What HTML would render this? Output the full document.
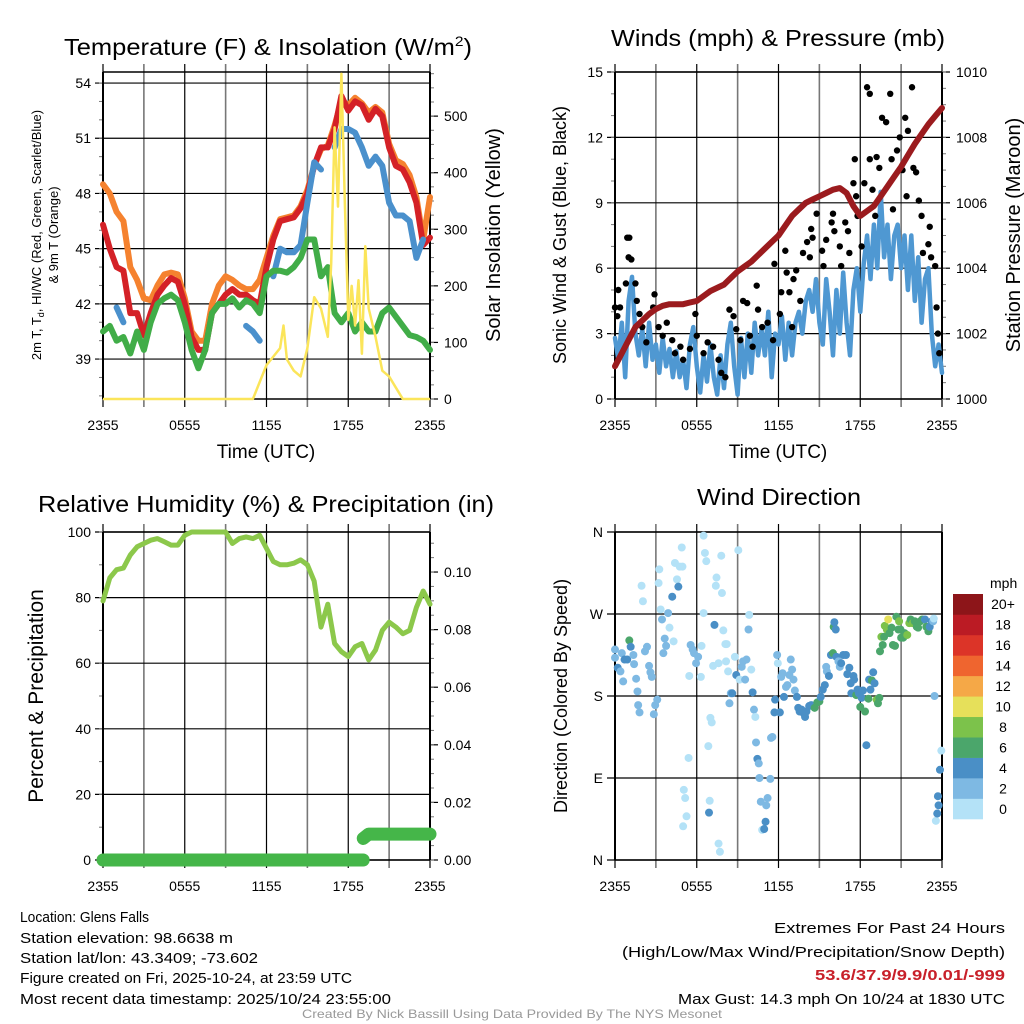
<!DOCTYPE html>
<html><head><meta charset="utf-8"><style>
html,body{margin:0;padding:0;background:#fff;width:1024px;height:1024px;overflow:hidden}
svg{display:block;font-family:"Liberation Sans",Arial,sans-serif}
</style></head><body>
<svg id="fig" width="1024" height="1024" viewBox="0 0 1024 1024" xmlns="http://www.w3.org/2000/svg">
<g id="static" fill="#000">
<text x="64" y="55" font-size="23" textLength="408" lengthAdjust="spacingAndGlyphs">Temperature (F) &amp; Insolation (W/m<tspan font-size="14" dy="-9">2</tspan><tspan dy="9">)</tspan></text>
<text x="611" y="46" font-size="23" textLength="334" lengthAdjust="spacingAndGlyphs">Winds (mph) &amp; Pressure (mb)</text>
<text x="38" y="512" font-size="23" textLength="456" lengthAdjust="spacingAndGlyphs">Relative Humidity (%) &amp; Precipitation (in)</text>
<text x="697" y="505" font-size="23" textLength="164" lengthAdjust="spacingAndGlyphs">Wind Direction</text>
<text x="266" y="458" font-size="19" text-anchor="middle">Time (UTC)</text>
<text x="778" y="458" font-size="19" text-anchor="middle">Time (UTC)</text>
<text transform="translate(41,235) rotate(-90)" font-size="13" text-anchor="middle">2m T, T<tspan font-size="9" dy="3">d</tspan><tspan dy="-3">, HI/WC (Red, Green, Scarlet/Blue)</tspan></text>
<text transform="translate(58,235) rotate(-90)" font-size="13" text-anchor="middle">&amp; 9m T (Orange)</text>
<text transform="translate(500,235) rotate(-90)" font-size="20" text-anchor="middle">Solar Insolation (Yellow)</text>
<text transform="translate(566,235) rotate(-90)" font-size="18" text-anchor="middle">Sonic Wind &amp; Gust (Blue, Black)</text>
<text transform="translate(1020,235) rotate(-90)" font-size="20" text-anchor="middle">Station Pressure (Maroon)</text>
<text transform="translate(43,696) rotate(-90)" font-size="21" text-anchor="middle">Percent &amp; Precipitation</text>
<text transform="translate(567,696) rotate(-90)" font-size="18" text-anchor="middle">Direction (Colored By Speed)</text>
<g font-size="15">
<text x="20" y="922" textLength="129" lengthAdjust="spacingAndGlyphs">Location: Glens Falls</text>
<text x="20" y="943" textLength="213" lengthAdjust="spacingAndGlyphs">Station elevation: 98.6638 m</text>
<text x="20" y="963" textLength="238" lengthAdjust="spacingAndGlyphs">Station lat/lon: 43.3409; -73.602</text>
<text x="20" y="983" textLength="332" lengthAdjust="spacingAndGlyphs">Figure created on Fri, 2025-10-24, at 23:59 UTC</text>
<text x="20" y="1004" textLength="371" lengthAdjust="spacingAndGlyphs">Most recent data timestamp: 2025/10/24 23:55:00</text>
</g>
<g font-size="15">
<text x="774" y="933" textLength="231" lengthAdjust="spacingAndGlyphs">Extremes For Past 24 Hours</text>
<text x="622" y="957" textLength="383" lengthAdjust="spacingAndGlyphs">(High/Low/Max Wind/Precipitation/Snow Depth)</text>
<text x="815" y="980" textLength="190" lengthAdjust="spacingAndGlyphs" fill="#c8202a" font-weight="bold">53.6/37.9/9.9/0.01/-999</text>
<text x="678" y="1004" textLength="327" lengthAdjust="spacingAndGlyphs">Max Gust: 14.3 mph On 10/24 at 1830 UTC</text>
</g>
<text x="302" y="1018" font-size="12" fill="#999" textLength="420" lengthAdjust="spacingAndGlyphs">Created By Nick Bassill Using Data Provided By The NYS Mesonet</text>
<text x="990" y="588" font-size="14">mph</text>
</g>
</svg>
<script>
// ---------- data ----------
const halfHours = [0,0.5,1,1.5,2,2.5,3,3.5,4,4.5,5,5.5,6,6.5,7,7.5,8,8.5,9,9.5,10,10.5,11,11.5,12,12.5,13,13.5,14,14.5,15,15.5,16,16.5,17,17.5,18,18.5,19,19.5,20,20.5,21,21.5,22,22.5,23,23.5,24];
const timeTickLabels = ["2355","0555","1155","1755","2355"];
const tempRed = [46.3,45,44,43.8,41.5,41.5,40.3,41.5,42.5,43,43.4,43.2,42,40.2,39.5,39.5,41.5,42,42.5,42.8,42.5,42.5,42.2,42,44,45.5,46.5,46.6,46.7,47.2,48,49.5,50.5,50.5,51.5,53.3,52.5,53,52.8,52,52.6,52.2,50.5,49.5,49.3,48.6,47.5,45.2,45.6];
const tempOrange = [48.5,48,47,46.5,44,43.3,42.3,42.2,43,43.6,43.7,43.6,42.3,40.5,40,40,42,43,43.5,43.3,43,42.8,42.8,43.3,44.5,45.7,46.6,46.7,46.8,47.3,48.2,49.5,50.4,50.6,51.7,53,52.8,53.2,52.9,52.4,52.7,52.4,50.7,49.8,49.6,49,47.8,45.5,47.8];
const tempGreen = [40.5,40.8,40,40.2,39.3,40.5,39.5,41,42,42.3,42.5,42.2,41,39.5,38.5,39.5,41.5,42,42,42.3,41.8,42.2,42,41.5,43.5,43.8,43.8,43.7,44,44.5,45.5,45.5,43.5,44,41.5,41,41.5,40.5,41,40.5,40.5,41.5,41.8,41.3,40.8,40.3,40.2,40,39.5];
const tempBlue = [null,null,41.8,41,null,null,39,null,null,null,null,null,null,null,null,null,null,40.5,null,null,null,40.8,40.5,40,null,43.5,45,44.8,44.8,45.2,47.5,49.7,49.3,null,50.5,51.5,51.5,51.3,50.5,49.5,50,49.5,47.5,46.8,46.8,46.5,44.5,45.5,null];
const solarTimes = [0,11,11.5,12,12.5,13,13.25,13.5,14,14.5,15,15.5,15.75,16,16.5,16.75,17,17.25,17.5,17.75,18,18.25,18.5,18.75,19,19.25,19.5,20,20.5,21,21.5,22,24];
const solarVals = [0,0,30,60,75,90,130,70,50,40,90,180,170,160,110,240,480,340,575,350,140,200,130,210,80,270,160,110,50,40,20,0,0];
const windSonic = [2.8,1.8,3.5,1.0,4.5,5.6,3.0,2.0,3.2,1.5,3.5,1.8,2.5,1.2,2.8,1.5,2.3,1.0,2.2,1.0,1.8,0.5,2.5,3.3,1.5,0.3,2.0,0.8,2.5,1.0,0.2,2.0,0.5,2.5,3.5,1.5,0.2,2.8,1.0,3.0,1.2,3.5,2.0,3.2,2.0,4.0,1.0,3.0,2.5,3.8,1.8,3.5,2.0,3.5,4.0,3.0,4.5,5.0,4.0,5.5,3.5,2.5,5.5,4.0,2.0,5.0,3.0,5.8,3.5,2.0,5.0,6.0,4.0,6.2,7.5,5.5,8.0,6.0,9.5,6.5,8.0,5.5,7.5,8.0,6.0,7.5,5.0,7.5,4.5,6.5,3.5,5.5,6.0,3.0,1.5,2.5,1.2];
const pressure = [1001,1001.4,1001.8,1002.2,1002.4,1002.6,1002.75,1002.85,1002.9,1002.9,1002.9,1002.95,1003.0,1003.15,1003.3,1003.4,1003.5,1003.7,1003.9,1004.05,1004.2,1004.4,1004.6,1004.8,1005,1005.3,1005.6,1005.8,1006,1006.1,1006.2,1006.3,1006.4,1006.45,1006.3,1005.9,1005.6,1005.75,1005.9,1006.2,1006.5,1006.8,1007.1,1007.45,1007.8,1008.1,1008.4,1008.65,1008.9];
const gustTimes = [0,0.17,0.24,0.37,0.9,1.05,1,1.2,0.8,1.5,1.6,1.8,2,2.3,2.8,2.9,3.2,3.5,3.8,4.2,4.4,4.8,5,5.5,5.9,6,6.5,6.8,7.2,7.6,7.8,8.1,8.4,8.7,8.9,9.2,9.4,9.7,9.9,10.1,10.4,10.5,10.8,11.2,11.6,11.7,12.1,12.2,12.5,12.6,12.8,13,13.1,13.3,13.6,13.8,14.1,14.3,14.4,14.5,14.8,15.2,15.3,15.5,15.9,16,16.1,16.5,16.6,16.9,17.1,17.2,17.5,17.6,17.7,17.8,18.1,18.3,18.5,18.7,18.7,18.9,19.1,19.2,19.4,19.6,19.9,20.2,20.3,20.4,20.7,20.9,21.1,21.3,21.4,21.5,21.8,21.9,22.1,22.3,22.5,22.6,23,23.1,23.2,23.5,23.6,23.7,23.8];
const gustVals = [4.2,3.8,5,4.2,7.4,7.4,6.5,6.4,5.3,5.3,4.5,3.9,3.3,2.6,4.2,4.8,3.3,2.9,3.5,2.7,2.1,2.4,1.8,2.3,3.9,2.9,2.1,2.6,2.4,1.8,1.2,1.0,4.1,3.8,3.2,2.7,4.5,4.4,2.9,2.4,5.2,4.1,3.3,3.5,2.7,6.2,3.9,4.9,6.8,5.8,4.9,3.3,5.5,5.9,4.5,6.7,7.2,6.5,7.8,7.4,8.5,6.8,6.1,7.3,8.1,8.5,7.7,7,6.1,8.1,7.7,6.7,9.9,11,9.3,8.4,7,9.9,14.3,14,11,9.6,8.4,11.1,10.6,12.9,12.7,14,11,8.7,11.4,12,10.5,12.9,9.3,12.3,14.3,10.6,10.4,9.1,8.4,6.7,7.1,7.9,6.5,6.1,4.2,3,2.1];
const rh = [79,86,88.5,89,93,95.5,96.5,97.5,98,97,96,96,99,100,100,100,100,100,100,96.5,98,98.5,98,99,95,91,90,90,90.5,91.5,90,85,71,78,66,63.5,62,65,66,61,64,70,72.5,71,69,70,77,82,78];
const precip = [0,0,0,0,0,0,0,0,0,0,0,0,0,0,0,0,0,0,0,0,0,0,0,0,0,0,0,0,0,0,0,0,0,0,0,0,0,0,0,0.009,0.009,0.009,0.009,0.009,0.009,0.009,0.009,0.009,0.009];
const precipStepTime = 19.1;
const dirTimes = [0,0,0.2,0.4,0.5,0.6,0.7,0.9,1.05,1.15,1.35,1.4,1.55,1.65,1.7,1.8,1.95,2.05,2.2,2.35,2.5,2.6,2.7,2.85,2.95,3.1,3.25,3.2,3.35,3.45,3.55,3.65,3.75,3.9,4.0,4.2,4.3,4.4,4.55,4.65,4.75,4.9,4.95,5.05,5.15,5.25,5.0,5.4,5.45,5.55,5.7,5.8,5.95,6.1,6.3,6.35,6.5,6.5,6.6,6.7,6.85,6.9,6.95,7.0,7.1,7.2,7.3,7.4,7.45,7.6,7.6,7.7,7.8,7.85,7.95,8.1,8.2,8.15,8.3,8.4,8.5,8.6,8.8,8.9,9.05,9.15,9.3,9.4,9.55,9.65,9.8,9.85,10.0,10.1,10.2,10.3,10.35,10.45,10.55,10.6,10.7,10.8,10.95,11.05,11.1,11.2,11.4,11.45,11.55,11.7,11.75,11.9,11.95,12.1,12.2,12.3,12.4,12.55,12.65,12.8,12.9,13.0,13.1,13.2,13.35,13.45,13.55,13.7,13.85,13.95,14.05,14.25,14.4,14.65,14.85,15.0,15.1,15.25,15.4,15.5,15.55,15.7,15.85,16.0,16.05,16.1,16.2,16.25,16.4,16.5,16.6,16.75,16.95,17.05,17.2,17.3,17.35,17.5,17.55,17.7,17.8,17.9,18.0,18.1,18.2,18.35,18.45,18.6,18.65,18.75,18.85,18.95,19.05,19.2,19.3,19.4,19.45,19.55,19.65,19.75,19.8,19.95,20.05,20.15,20.3,20.4,20.55,20.65,20.8,20.85,20.95,21.0,21.15,21.25,21.45,21.6,21.7,21.85,22.0,22.15,22.25,22.4,22.55,22.75,22.85,23.0,23.1,23.25,23.35,23.4,23.45,23.55,23.65,23.7,23.75,23.85,23.95];
const dirVals = [231,222,211,207,227,196,220,220,241,234,225,215,199,185,170,162,301,284,229,234,213,206,201,160,170,176,319,304,275,264,227,243,235,271,255,289,240,326,308,300,322,343,322,77,68,48,37,112,202,236,231,227,216,223,201,235,271,356,337,328,125,52,65,156,151,213,258,301,310,216,18,9,334,293,252,237,237,218,207,172,183,183,223,203,340,198,212,218,198,220,253,269,209,184,165,157,129,111,106,90,64,33,34,42,60,68,89,134,135,162,176,225,216,162,201,205,179,190,192,203,220,209,198,186,179,167,163,165,161,157,163,169,170,167,173,174,179,187,192,212,207,202,225,227,256,261,253,223,218,212,216,225,225,204,211,194,183,202,198,181,187,183,168,178,186,163,126,177,198,187,197,206,194,176,172,178,229,245,236,245,257,253,264,249,255,236,235,267,253,262,253,244,244,249,247,260,264,260,262,256,255,262,264,264,256,251,256,262,262,265,180,43,51,70,60,99,120];
const dirSpeeds = [3,3,5,3,3,3,5,5,7,5,3,3,3,3,3,3,1,1,3,3,3,3,3,3,3,3,1,1,1,3,3,3,3,3,1,5,1,1,1,5,1,1,1,1,1,1,1,1,1,3,3,3,3,3,1,1,1,1,1,1,1,5,1,1,1,1,5,1,1,1,1,1,1,1,1,1,1,1,1,3,3,5,1,5,1,1,3,3,3,3,3,1,1,5,3,1,3,5,3,3,3,1,5,5,3,3,3,3,3,5,5,3,1,5,3,3,5,3,3,3,3,3,3,3,5,5,5,5,5,5,5,5,5,7,7,7,5,5,5,3,3,5,5,7,7,5,5,5,3,3,5,5,5,5,5,5,5,5,5,7,5,5,7,5,5,7,5,7,5,5,7,5,5,9,7,7,7,9,7,7,9,9,11,7,7,7,7,7,7,9,7,7,7,7,9,9,7,9,7,7,7,7,7,5,7,7,5,5,3,1,3,1,5,5,5,5,1];
const colorbarLabels = ["0","2","4","6","8","10","12","14","16","18","20+"];
const speedColors = ["#b4e2f7","#7eb9e3","#4a8fc6","#4ba66b","#7cc24b","#e6e05a","#f5a847","#ef652f","#dc3428","#bb1b24","#8d1519"];

// ---------- helpers ----------
const NS="http://www.w3.org/2000/svg";
const svg=document.getElementById('fig');
function mk(tag,attrs,parent){const e=document.createElementNS(NS,tag);for(const k in attrs)e.setAttribute(k,attrs[k]);(parent||svg).appendChild(e);return e;}
function makePanel(x0,x1,y0,y1,lmin,lmax,rmin,rmax){
  return {x:t=>x0+t/24*(x1-x0), yl:v=>y1-(v-lmin)/(lmax-lmin)*(y1-y0), yr:v=>y1-(v-rmin)/(rmax-rmin)*(y1-y0), x0,x1,y0,y1};
}
function frame(p,name,leftTicks,leftLabels,rightTicks,rightLabels,minorL,minorR){
  const g=mk('g',{});
  
  
  for(let i=0;i<=8;i++){
    const x=p.x(i*3);
    mk('line',{x1:x,x2:x,y1:p.y0-8,y2:p.y1+8,stroke:i%2?'#777':'#000','stroke-width':i%2?1.6:1.2},g);
  }
  leftTicks.forEach((v,i)=>{const y=p.yl(v);
    mk('line',{x1:p.x0-8,x2:p.x1,y1:y,y2:y,stroke:'#000','stroke-width':1.2},g);
    const t=mk('text',{x:p.x0-12,y:y+5,'font-size':14,'text-anchor':'end'},g);t.textContent=leftLabels[i];});
  rightTicks.forEach((v,i)=>{const y=p.yr(v);
    mk('line',{x1:p.x1,x2:p.x1+8,y1:y,y2:y,stroke:'#000','stroke-width':1.2},g);
    const t=mk('text',{x:p.x1+14,y:y+5,'font-size':14},g);t.textContent=rightLabels[i];});
  (minorL||[]).forEach(v=>{const y=p.yl(v);mk('line',{x1:p.x0-4,x2:p.x0,y1:y,y2:y,stroke:'#777'},g);});
  (minorR||[]).forEach(v=>{const y=p.yr(v);mk('line',{x1:p.x1,x2:p.x1+4,y1:y,y2:y,stroke:'#777'},g);});
  mk('line',{x1:p.x0,x2:p.x1,y1:p.y0,y2:p.y0,stroke:'#000','stroke-width':1.5},g);
  mk('line',{x1:p.x0,x2:p.x0,y1:p.y0,y2:p.y1,stroke:'#000','stroke-width':2},g);
  mk('line',{x1:p.x1,x2:p.x1,y1:p.y0,y2:p.y1,stroke:'#000','stroke-width':2},g);
  mk('line',{x1:p.x0,x2:p.x1,y1:p.y1,y2:p.y1,stroke:'#000','stroke-width':1.5},g);
  timeTickLabels.forEach((l,i)=>{const t=mk('text',{x:p.x(i*6),y:p.y1+31,'font-size':14,'text-anchor':'middle'},g);t.textContent=l;});
}
function seriesPath(times,vals,xf,yf){
  let d='',pen=false;
  vals.forEach((v,i)=>{if(v===null||v===undefined){pen=false;return;}d+=(pen?'L':'M')+xf(times[i]).toFixed(1)+' '+yf(v).toFixed(1);pen=true;});
  return d;
}
function range(a,b,s){const r=[];for(let v=a;v<=b+1e-9;v+=s)r.push(+v.toFixed(4));return r;}
const quarterHours = range(0,24,0.25);

// ---------- panel 1: temperature ----------
const p1=makePanel(103,430,72,399,36.83,54.6,0,578);
frame(p1,'temperature',[39,42,45,48,51,54],["39","42","45","48","51","54"],[0,100,200,300,400,500],["0","100","200","300","400","500"],range(37,54,1),range(0,575,25));
const tO=mk('path',{d:seriesPath(halfHours,tempOrange,p1.x,p1.yl),fill:'none',stroke:'#f5822f','stroke-width':6,'stroke-linejoin':'round','stroke-linecap':'round'});


const tR=mk('path',{d:seriesPath(halfHours,tempRed,p1.x,p1.yl),fill:'none',stroke:'#d42127','stroke-width':6,'stroke-linejoin':'round','stroke-linecap':'round'});


const tB=mk('path',{d:seriesPath(halfHours,tempBlue,p1.x,p1.yl),fill:'none',stroke:'#4a90cc','stroke-width':6,'stroke-linejoin':'round','stroke-linecap':'round'});


const tG=mk('path',{d:seriesPath(halfHours,tempGreen,p1.x,p1.yl),fill:'none',stroke:'#41ad48','stroke-width':6,'stroke-linejoin':'round','stroke-linecap':'round'});


const tY=mk('path',{d:seriesPath(solarTimes,solarVals,p1.x,p1.yr),fill:'none',stroke:'#fbe55a','stroke-width':2.5,'stroke-linejoin':'round'});



// ---------- panel 2: winds ----------
const p2=makePanel(615,942,72,399,0,15,1000,1010);
frame(p2,'winds',[0,3,6,9,12,15],["0","3","6","9","12","15"],[1000,1002,1004,1006,1008,1010],["1000","1002","1004","1006","1008","1010"],range(0,15,1),range(1000,1010,0.5));
const wS=mk('path',{d:seriesPath(quarterHours,windSonic,p2.x,p2.yl),fill:'none',stroke:'#4f98d2','stroke-width':4.5,'stroke-linejoin':'round','stroke-linecap':'round'});


gustTimes.forEach((t,i)=>{
  const c=mk('circle',{cx:p2.x(t),cy:p2.yl(gustVals[i]),r:3.2,fill:'#000'});
  
  
});
const pP=mk('path',{d:seriesPath(halfHours,pressure,p2.x,p2.yr),fill:'none',stroke:'#9b1b1e','stroke-width':6,'stroke-linejoin':'round','stroke-linecap':'round'});



// ---------- panel 3: RH ----------
const p3=makePanel(103,430,532,860,0,100,0,0.1139);
frame(p3,'humidity',[0,20,40,60,80,100],["0","20","40","60","80","100"],[0,0.02,0.04,0.06,0.08,0.10],["0.00","0.02","0.04","0.06","0.08","0.10"],range(0,100,10),range(0,0.11,0.005));
const rL=mk('path',{d:seriesPath(halfHours,rh,p3.x,p3.yl),fill:'none',stroke:'#8cc84b','stroke-width':5,'stroke-linejoin':'round','stroke-linecap':'round'});


{
  const pt=halfHours.filter(t=>t<precipStepTime).concat([precipStepTime]).concat(halfHours.filter(t=>t>precipStepTime));
  const pv=pt.map(t=>{const i=halfHours.indexOf(t);return i>=0?precip[i]:0;});
  const stepIdx=pt.indexOf(precipStepTime);
  const d1=seriesPath(pt.slice(0,stepIdx+1),pv.slice(0,stepIdx+1),p3.x,p3.yr);
  const a=mk('path',{d:d1,fill:'none',stroke:'#45b649','stroke-width':13,'stroke-linecap':'round'});
  
  
  const after=pt.slice(stepIdx+1), afterV=pv.slice(stepIdx+1);
  const d2='M'+p3.x(precipStepTime)+' '+p3.yr(afterV[0]*0.83)+seriesPath(after,afterV,p3.x,p3.yr).replace('M','L');
  const b=mk('path',{d:d2,fill:'none',stroke:'#45b649','stroke-width':13,'stroke-linecap':'round','stroke-linejoin':'round'});
  
  
}

// ---------- panel 4: wind direction ----------
const p4=makePanel(615,942,532,860,0,360,0,360);
frame(p4,'wind-direction',[0,90,180,270,360],["N","E","S","W","N"],[],[],[],[]);
dirTimes.forEach((t,i)=>{
  const sp=(dirSpeeds[i]===undefined)?3:dirSpeeds[i];
  const bin=Math.max(0,Math.min(10,Math.floor(sp/2)));
  const c=mk('circle',{cx:p4.x(t),cy:p4.yl(dirVals[i]),r:4,fill:speedColors[bin]});
  
  
});
// colorbar
const cb=mk('g',{});


colorbarLabels.forEach((l,i)=>{
  const h=225/11, y=819-(i+1)*h;
  mk('rect',{x:953,y:y,width:30,height:h+0.3,fill:speedColors[i]},cb);
  const t=mk('text',{x:1003,y:y+h/2+5,'font-size':14,'text-anchor':'middle'},cb);t.textContent=l;
});
</script>
</body></html>
